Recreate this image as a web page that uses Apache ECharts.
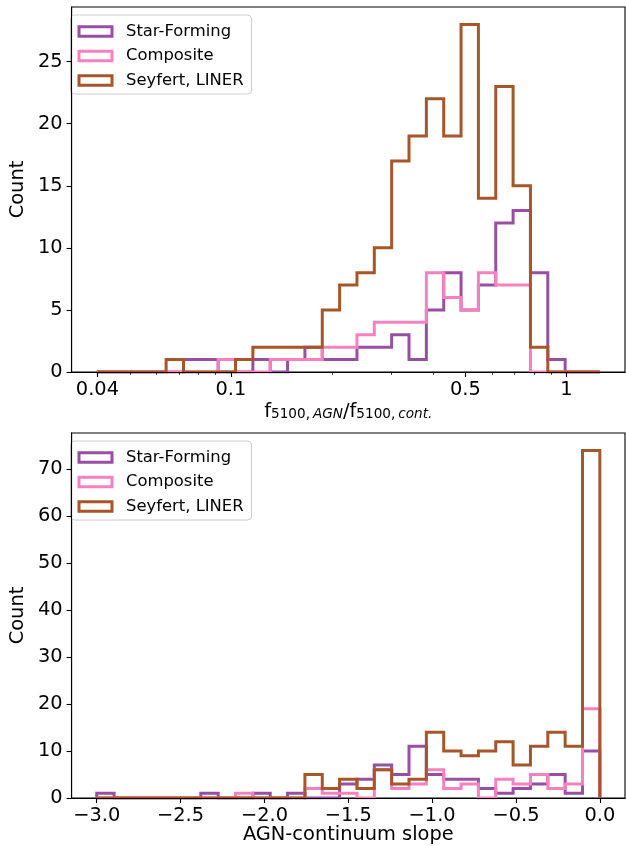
<!DOCTYPE html>
<html>
<head>
<meta charset="utf-8">
<script src="https://cdn.jsdelivr.net/npm/echarts@6/dist/echarts.min.js"></script>
<style>
  html, body { margin: 0; padding: 0; background: #ffffff; }
  #chart { width: 626px; height: 846px; }
</style>
</head>
<body>
<div id="chart"></div>
<script>
// Galaxy classes and their outline colours
const seriesNames = ['Star-Forming', 'Composite', 'Seyfert, LINER'];
const seriesColors = ['#984ea3', '#f781bf', '#a65628'];

// Upper panel: f5100(AGN)/f5100(cont.) in 29 log-spaced bins from 10^-1.4 to 10^0.1
const ratioLogMin = -1.4;
const ratioLogMax = 0.1;
const ratioBinCount = 29;
const ratioStarForming = [0, 0, 0, 0, 0, 1, 1, 0, 0, 1, 0, 1, 2, 1, 1, 2, 2, 3, 1, 5, 8, 5, 7, 12, 13, 8, 1, 0, 0];
const ratioComposite   = [0, 0, 0, 0, 0, 0, 0, 1, 0, 0, 1, 1, 1, 2, 2, 3, 4, 4, 4, 8, 6, 5, 8, 7, 7, 0, 0, 0, 0];
const ratioSeyfert     = [0, 0, 0, 0, 1, 0, 0, 0, 1, 2, 2, 2, 2, 5, 7, 8, 10, 17, 19, 22, 19, 28, 14, 23, 15, 2, 0, 0, 0];
const ratioTickLabels  = [0.04, 0.1, 0.5, 1];
const ratioMinorTicks  = [0.05, 0.06, 0.07, 0.08, 0.09, 0.2, 0.3, 0.4, 0.6, 0.7, 0.8, 0.9];
const countTicksUpper  = [0, 5, 10, 15, 20, 25];

// Lower panel: AGN-continuum slope in 29 bins from -3 to 0
const slopeMin = -3.0;
const slopeMax = 0.0;
const slopeBinCount = 29;
const slopeStarForming = [1, 0, 0, 0, 0, 0, 1, 0, 0, 1, 0, 1, 0, 0, 3, 4, 7, 5, 11, 5, 4, 4, 2, 1, 2, 3, 5, 1, 10];
const slopeComposite   = [0, 0, 0, 0, 0, 0, 0, 0, 1, 0, 0, 0, 2, 1, 1, 0, 6, 2, 3, 6, 2, 3, 0, 4, 3, 5, 2, 3, 19];
const slopeSeyfert     = [0, 0, 0, 0, 0, 0, 0, 0, 0, 0, 0, 0, 5, 2, 4, 2, 6, 3, 4, 14, 10, 9, 10, 12, 7, 11, 14, 11, 74];
const slopeTickLabels  = [-3.0, -2.5, -2.0, -1.5, -1.0, -0.5, 0.0];
const countTicksLower  = [0, 10, 20, 30, 40, 50, 60, 70];

const FONT = 'DejaVu Sans';
const TICK_FS = 19.4;

function binEdges(lo, hi, n) {
  const edges = [];
  for (let k = 0; k <= n; k++) edges.push(lo + (hi - lo) * k / n);
  return edges;
}

// Outline of a step histogram: rise from the baseline, run across each bin, fall back at the end
function stepOutline(edges, counts) {
  const pts = [[edges[0], 0]];
  counts.forEach((c, i) => {
    pts.push([edges[i], c]);
    pts.push([edges[i + 1], c]);
  });
  pts.push([edges[edges.length - 1], 0]);
  return pts;
}

function padded(lo, hi) {
  const m = 0.05 * (hi - lo);
  return [lo - m, hi + m];
}

const ratioEdges = binEdges(ratioLogMin, ratioLogMax, ratioBinCount);
const slopeEdges = binEdges(slopeMin, slopeMax, slopeBinCount);
const [ratioXMin, ratioXMax] = padded(ratioLogMin, ratioLogMax);
const [slopeXMin, slopeXMax] = padded(slopeMin, slopeMax);
const upperMax = 1.05 * Math.max(...ratioStarForming, ...ratioComposite, ...ratioSeyfert);
const lowerMax = 1.05 * Math.max(...slopeStarForming, ...slopeComposite, ...slopeSeyfert);

const ratioCounts = [ratioStarForming, ratioComposite, ratioSeyfert];
const slopeCounts = [slopeStarForming, slopeComposite, slopeSeyfert];

function histSeries(edges, countsList, xIdx, yIdx) {
  return countsList.map((counts, i) => ({
    type: 'line',
    name: seriesNames[i],
    xAxisIndex: xIdx,
    yAxisIndex: yIdx,
    data: stepOutline(edges, counts),
    showSymbol: false,
    symbol: 'none',
    silent: true,
    clip: true,
    z: 2 + i * 0.01,
    lineStyle: { color: seriesColors[i], width: 3, join: 'miter', cap: 'butt' },
    itemStyle: { color: seriesColors[i] }
  }));
}

const tickLine = { show: true, length: 5, lineStyle: { color: '#000', width: 1.1 } };
const minorTickLine = { show: true, length: 2.8, lineStyle: { color: '#000', width: 0.8 } };
const labelStyle = { color: '#000', fontFamily: FONT, fontSize: TICK_FS };

function ratioLabel(v) {
  return String(+Math.pow(10, v).toPrecision(2));
}
function slopeLabel(v) {
  const s = Math.abs(v).toFixed(1);
  return v < -1e-9 ? '\u2212' + s : s;
}

function legendFor(top) {
  return {
    orient: 'vertical',
    left: 70.5,
    top: top,
    padding: [8.5, 8, 5.5, 7],
    itemGap: 8.5,
    itemWidth: 33,
    itemHeight: 9.5,
    backgroundColor: 'rgba(255,255,255,0.8)',
    borderColor: '#cccccc',
    borderWidth: 1,
    borderRadius: 4,
    selectedMode: false,
    textStyle: { fontFamily: FONT, fontSize: 16.4, color: '#000', lineHeight: 16, padding: [0, 0, 0, 9] },
    data: seriesNames.map((n, i) => ({
      name: n,
      icon: 'rect',
      itemStyle: { color: 'rgba(0,0,0,0)', borderColor: seriesColors[i], borderWidth: 3 }
    }))
  };
}

const chart = echarts.init(document.getElementById('chart'), null, { renderer: 'canvas' });

chart.setOption({
  animation: false,
  backgroundColor: '#ffffff',
  grid: [
    { left: 62, top: 7, width: 563, height: 365, show: true, borderColor: '#000', borderWidth: 1.1, backgroundColor: 'transparent' },
    { left: 62, top: 433, width: 563, height: 365, show: true, borderColor: '#000', borderWidth: 1.1, backgroundColor: 'transparent' }
  ],
  legend: [legendFor(15), legendFor(441)],
  xAxis: [
    {
      type: 'value', gridIndex: 0, min: ratioXMin, max: ratioXMax, z: 5,
      axisLine: { show: true, onZero: false, lineStyle: { color: '#000', width: 1.1 } },
      axisTick: Object.assign({ customValues: ratioTickLabels.map(Math.log10) }, tickLine),
      axisLabel: Object.assign({ customValues: ratioTickLabels.map(Math.log10), margin: 8, formatter: ratioLabel }, labelStyle),
      splitLine: { show: false },
      name: '{m|f}{s|5100,}{i|AGN}{m|/f}{s|5100,}{i|cont.}',
      nameLocation: 'middle',
      nameGap: 27,
      nameTextStyle: {
        fontFamily: FONT, color: '#000',
        rich: {
          m: { fontFamily: FONT, fontSize: TICK_FS, lineHeight: 22, verticalAlign: 'bottom', color: '#000' },
          s: { fontFamily: FONT, fontSize: 13.6, lineHeight: 10, verticalAlign: 'bottom', color: '#000' },
          i: { fontFamily: FONT, fontSize: 13.6, lineHeight: 10, verticalAlign: 'bottom', fontStyle: 'italic', color: '#000', padding: [0, 0, 0, 3] }
        }
      }
    },
    {
      type: 'value', gridIndex: 0, min: ratioXMin, max: ratioXMax, position: 'bottom', z: 5,
      axisLine: { show: false, onZero: false },
      axisTick: Object.assign({ customValues: ratioMinorTicks.map(Math.log10) }, minorTickLine),
      axisLabel: { show: false },
      splitLine: { show: false }
    },
    {
      type: 'value', gridIndex: 1, min: slopeXMin, max: slopeXMax, z: 5,
      axisLine: { show: true, onZero: false, lineStyle: { color: '#000', width: 1.1 } },
      axisTick: Object.assign({ customValues: slopeTickLabels }, tickLine),
      axisLabel: Object.assign({ customValues: slopeTickLabels, margin: 8, formatter: slopeLabel }, labelStyle),
      splitLine: { show: false },
      name: 'AGN-continuum slope',
      nameLocation: 'middle',
      nameGap: 25,
      nameTextStyle: { fontFamily: FONT, fontSize: TICK_FS, color: '#000' }
    }
  ],
  yAxis: [
    {
      type: 'value', gridIndex: 0, min: 0, max: upperMax, z: 5,
      axisLine: { show: true, onZero: false, lineStyle: { color: '#000', width: 1.1 } },
      axisTick: Object.assign({ customValues: countTicksUpper }, tickLine),
      axisLabel: Object.assign({ customValues: countTicksUpper, margin: 9 }, labelStyle),
      splitLine: { show: false },
      name: 'Count', nameLocation: 'middle', nameGap: 34,
      nameTextStyle: { fontFamily: FONT, fontSize: TICK_FS, color: '#000' }
    },
    {
      type: 'value', gridIndex: 1, min: 0, max: lowerMax, z: 5,
      axisLine: { show: true, onZero: false, lineStyle: { color: '#000', width: 1.1 } },
      axisTick: Object.assign({ customValues: countTicksLower }, tickLine),
      axisLabel: Object.assign({ customValues: countTicksLower, margin: 9 }, labelStyle),
      splitLine: { show: false },
      name: 'Count', nameLocation: 'middle', nameGap: 34,
      nameTextStyle: { fontFamily: FONT, fontSize: TICK_FS, color: '#000' }
    }
  ],
  series: [
    ...histSeries(ratioEdges, ratioCounts, 0, 0),
    ...histSeries(slopeEdges, slopeCounts, 2, 1)
  ]
});
</script>
</body>
</html>
